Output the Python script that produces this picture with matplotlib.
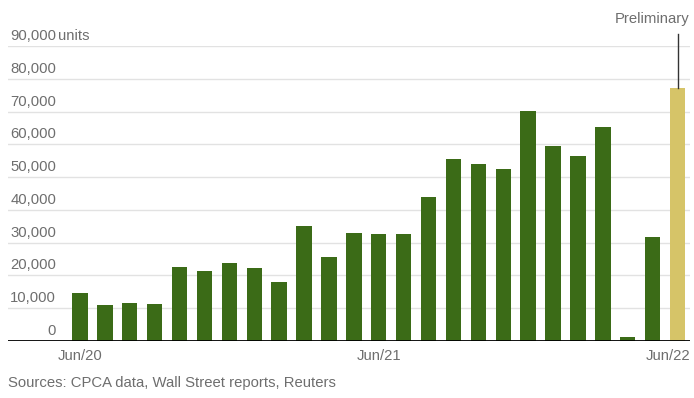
import matplotlib
matplotlib.use('Agg')
import matplotlib.pyplot as plt
import matplotlib.transforms as mtransforms

# monthly sales, Jun/20 .. Jun/22 (last one preliminary)
months = ['Jun/20', 'Jul/20', 'Aug/20', 'Sep/20', 'Oct/20', 'Nov/20', 'Dec/20',
          'Jan/21', 'Feb/21', 'Mar/21', 'Apr/21', 'May/21', 'Jun/21', 'Jul/21',
          'Aug/21', 'Sep/21', 'Oct/21', 'Nov/21', 'Dec/21', 'Jan/22', 'Feb/22',
          'Mar/22', 'Apr/22', 'May/22', 'Jun/22']
units = [14500, 10900, 11600, 11300, 22700, 21300, 23700, 22300, 18000, 35100,
         25700, 33100, 32700, 32700, 43800, 55500, 53900, 52500, 70300, 59500,
         56300, 65200, 1200, 31700, 77300]
yticks = [0, 10000, 20000, 30000, 40000, 50000, 60000, 70000, 80000, 90000]
xlabels = {'Jun/20': 'center', 'Jun/21': 'center', 'Jun/22': 'right'}
source = 'Sources: CPCA data, Wall Street reports, Reuters'

GREEN = '#3b6b17'
YELLOW = '#d6c468'
GREY = '#6e6e6e'

plt.rcParams['font.family'] = ['Liberation Sans', 'DejaVu Sans']

fig = plt.figure(figsize=(6.94, 3.98), dpi=100)
ax = fig.add_axes([8 / 694, 57 / 398, 682 / 694, 295 / 398])

colors = [GREEN] * (len(units) - 1) + [YELLOW]
x = list(range(len(units)))
ax.bar(x, units, width=0.62, color=colors, zorder=3)
ax.set_xlim(-2.89, 24.5)
ax.set_ylim(0, 90000)
for s in ax.spines.values():
    s.set_visible(False)
ax.set_xticks([])
ax.set_yticks([])

# gridlines + labels sitting above them
up = mtransforms.offset_copy(ax.transData, fig=fig, x=0, y=3, units='dots')
blend = mtransforms.blended_transform_factory(ax.transAxes, up)
for v in yticks:
    if v > 0:
        ax.axhline(v, color='#e2e2e2', lw=1, zorder=1)
    ax.text(48 / 682, v, f'{v:,}', transform=blend, ha='right', va='bottom',
            fontsize=10.7, color=GREY)
ax.text(50 / 682, 90000, 'units', transform=blend, ha='left', va='bottom',
        fontsize=10.7, color=GREY)
ax.axhline(0, color='black', lw=1.3, zorder=4)

# x labels
for lab, ha in xlabels.items():
    i = months.index(lab)
    xpos = i if ha == 'center' else 24.5
    ax.text(xpos, -2500, lab, ha=ha, va='top', fontsize=10.7, color=GREY)

# preliminary marker
last = len(units) - 1
ax.plot([last, last], [units[last], 93600], color='#333333', lw=1,
        clip_on=False, zorder=5)
ax.text(24.5, 96000, 'Preliminary', ha='right', va='bottom', fontsize=10.7,
        color=GREY, clip_on=False)

fig.text(8 / 694, 1 - 383 / 398, source, ha='left', va='center',
         fontsize=10.7, color=GREY)

fig.savefig('out.png', dpi=100)
